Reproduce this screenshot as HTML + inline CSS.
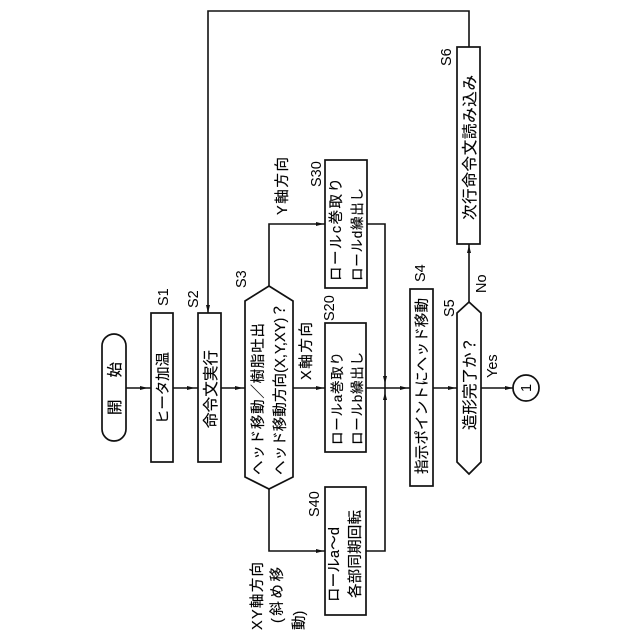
<!DOCTYPE html>
<html>
<head>
<meta charset="utf-8">
<style>
html,body{margin:0;padding:0;background:#fff;width:640px;height:640px;overflow:hidden}
svg{display:block}
text{font-family:"Liberation Sans","Noto Sans CJK JP",sans-serif;fill:#000;font-size:14.5px;stroke:#000;stroke-width:.15}
.s{font-size:14.5px;stroke-width:0}
.t{font-size:13.5px}
.m{font-size:15.5px}
.b{fill:#fff;stroke:#111;stroke-width:1.7}
.l{fill:none;stroke:#111;stroke-width:1.6}
.a{fill:#111;stroke:none}
</style>
</head>
<body>
<svg width="640" height="640" viewBox="0 0 640 640" xmlns="http://www.w3.org/2000/svg">
<!-- connectors -->
<path class="l" d="M126 388H151M173 388H198M221 388H245"/>
<path class="l" d="M293 388H325M366 388H410M433 388H457M481 388H513"/>
<path class="l" d="M269 286V224H325M367 224H385V551H366M269 489V551H325"/>
<path class="l" d="M469 302V244M469 47V11H208V313"/>
<!-- arrowheads -->
<path class="a" d="M148 388l-8-2v4zM195 388l-8-2v4zM243 388l-8-2v4zM324 388l-8-2v4zM408 388l-8-2v4zM456 388l-8-2v4zM513 388l-8-2v4zM324 224l-8-2v4zM324 551l-8-2v4z"/>
<path class="a" d="M385 384l-2-8h4zM385 392l-2 8h4zM469 245l-2 8h4zM208 313l-2-8h4z"/>
<!-- nodes -->
<rect class="b" x="102" y="334" width="24" height="107" rx="12"/>
<rect class="b" x="151" y="313" width="22" height="149"/>
<rect class="b" x="198" y="313" width="23" height="149"/>
<polygon class="b" points="269,286 293,301 293,477 269,489 245,477 245,301"/>
<rect class="b" x="325" y="160" width="42" height="128"/>
<rect class="b" x="325" y="323" width="41" height="129"/>
<rect class="b" x="325" y="487" width="41" height="128"/>
<rect class="b" x="410" y="289" width="23" height="197"/>
<polygon class="b" points="469,302 481,313 481,462 469,474 457,462 457,313"/>
<rect class="b" x="457" y="47" width="23" height="197"/>
<circle class="b" cx="526" cy="388" r="13"/>
<!-- node labels -->
<text class="m" transform="translate(120,415) rotate(-90)" textLength="53" lengthAdjust="spacing">開始</text>
<text transform="translate(168,424) rotate(-90)" textLength="72" lengthAdjust="spacing">ヒータ加温</text>
<text class="m" transform="translate(216,428) rotate(-90)" textLength="78" lengthAdjust="spacing">命令文実行</text>
<text transform="translate(263,475) rotate(-90)" textLength="152" lengthAdjust="spacing">ヘッド移動／樹脂吐出</text>
<text transform="translate(285,475) rotate(-90)" textLength="172" lengthAdjust="spacing">ヘッド移動方向(X,Y,XY)？</text>
<text transform="translate(341,281) rotate(-90)" textLength="103" lengthAdjust="spacing">ロールc巻取り</text>
<text class="t" transform="translate(362,281) rotate(-90)" textLength="93" lengthAdjust="spacing">ロールd繰出し</text>
<text class="t" transform="translate(342,445) rotate(-90)" textLength="93" lengthAdjust="spacing">ロールa巻取り</text>
<text class="t" transform="translate(362,445) rotate(-90)" textLength="93" lengthAdjust="spacing">ロールb繰出し</text>
<text transform="translate(339,602) rotate(-90)" textLength="75" lengthAdjust="spacing">ロールa〜d</text>
<text transform="translate(360,598) rotate(-90)" textLength="88" lengthAdjust="spacing">各部同期回転</text>
<text transform="translate(427,474) rotate(-90)" textLength="176" lengthAdjust="spacing">指示ポイントにヘッド移動</text>
<text class="m" transform="translate(475,430) rotate(-90)" textLength="93" lengthAdjust="spacing">造形完了か？</text>
<text class="m" transform="translate(475,220) rotate(-90)" textLength="145" lengthAdjust="spacing">次行命令文読み込み</text>
<text class="s" transform="translate(531,392) rotate(-90)">1</text>
<!-- step labels -->
<text class="s" transform="translate(168,306) rotate(-90)">S1</text>
<text class="s" transform="translate(198,308) rotate(-90)">S2</text>
<text class="s" transform="translate(246,288) rotate(-90)">S3</text>
<text class="s" transform="translate(321,187) rotate(-90)">S30</text>
<text class="s" transform="translate(334,321) rotate(-90)">S20</text>
<text class="s" transform="translate(319,517) rotate(-90)">S40</text>
<text class="s" transform="translate(425,282) rotate(-90)">S4</text>
<text class="s" transform="translate(454,317) rotate(-90)">S5</text>
<text class="s" transform="translate(451,66) rotate(-90)">S6</text>
<!-- connector labels -->
<text transform="translate(287,215) rotate(-90)" textLength="58" lengthAdjust="spacing">Y軸方向</text>
<text transform="translate(311,380) rotate(-90)" textLength="58" lengthAdjust="spacing">X軸方向</text>
<text transform="translate(262,630) rotate(-90)" textLength="68" lengthAdjust="spacing">XY軸方向</text>
<text transform="translate(282,623) rotate(-90)" textLength="56" lengthAdjust="spacing">(斜め移</text>
<text transform="translate(304,630) rotate(-90)">動)</text>
<text class="s" transform="translate(497,378) rotate(-90)">Yes</text>
<text class="s" transform="translate(486,293) rotate(-90)">No</text>
</svg>
</body>
</html>
